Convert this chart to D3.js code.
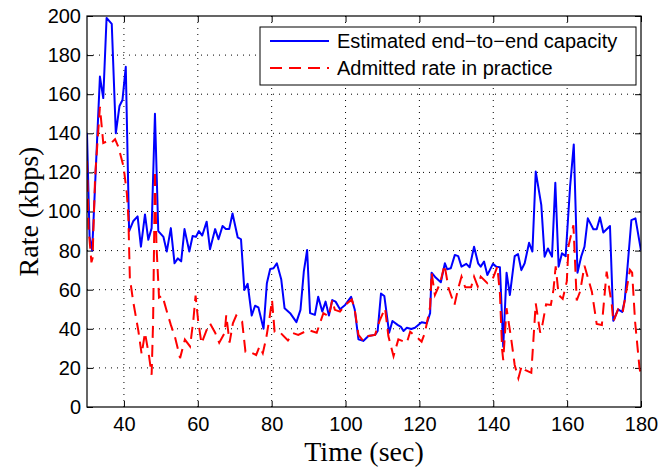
<!DOCTYPE html>
<html>
<head>
<meta charset="utf-8">
<script src="https://cdn.jsdelivr.net/npm/d3@7"></script>
<style>
  html, body { margin: 0; padding: 0; background: #fff; }
  svg { display: block; }
</style>
</head>
<body>
<svg id="chart" width="662" height="471"></svg>
<script>
// ---- data ----
const xTicks = [40, 60, 80, 100, 120, 140, 160, 180];
const yTicks = [0, 20, 40, 60, 80, 100, 120, 140, 160, 180, 200];
const seriesNames = ["Estimated end\u2212to\u2212end capacity", "Admitted rate in practice"];

const capacityT = [30,30.7,31.4,33.5,34.4,35.3,36.7,37.8,38.8,39.6,40.5,41.4,42.5,43.7,44.6,45.7,46.6,47.5,48.4,49.3,50.7,51.6,52.7,53.7,54.6,55.5,56.4,57.7,58.6,59.5,60.3,61.2,62.4,63.3,64.7,65.6,66.7,67.6,68.5,69.4,70.8,71.7,72.6,73.5,74.6,75.5,76.4,77.8,78.7,79.6,80.5,81.4,82.6,83.5,85.0,86.7,87.8,88.7,89.6,90.4,91.7,92.6,93.7,94.6,95.5,96.4,97.3,98.5,99.9,101.5,102.5,103.5,104.8,106.2,108.0,108.7,109.6,110.5,111.8,112.7,114.1,115.0,115.7,116.6,117.8,118.8,120.6,122.0,122.9,123.3,124.4,125.8,126.9,127.5,128.5,129.6,130.5,131.4,132.7,133.6,134.8,135.9,136.6,137.5,138.4,139.9,140.8,141.8,142.7,143.6,144.5,145.8,146.7,147.6,148.5,149.7,150.6,151.5,153.0,153.9,154.8,155.9,156.8,157.7,158.6,159.6,160.8,161.8,162.8,163.8,164.7,165.6,167.1,168.0,168.9,169.8,171.6,172.5,173.8,174.9,175.6,177.4,178.5,180];
const capacityV = [140,87,80,169,158,199,196,140,154,157,174,90,95,97.5,82,98.5,85.5,91.5,150,90,87,79.5,91.5,73.5,76,74.5,91,79.5,87.5,87,90,87.7,94.8,80.7,91,85.8,92.6,91,91,99,86.8,85.8,59.9,63,46.8,51.8,51,40,63.3,70.6,71,73.5,65.2,50.5,48,43.4,49.7,69.2,80.3,48,47.1,56.4,48.8,53.9,46.8,54.7,53.9,50,52.2,56.4,49.7,34.6,33.8,36.3,36.9,38.9,58,56.8,38,44,42,41,38.9,40.5,39.9,40.5,43.4,42.8,48,68.7,66.2,63.8,73.5,70.5,71,77.8,77.2,71.8,73.2,71.5,82,73.5,71.8,74.4,67.5,73.2,71.8,71.5,30.9,68.7,57.3,77.2,78.2,70,73.5,84,79.5,120.4,103.4,76.9,81.1,76.9,114.7,71.8,78.6,77.2,112.7,134.3,68.7,76.9,82,96.5,90.9,90.9,97,89.3,92.6,44.1,49.9,48.6,54.6,95.6,96.5,80];

const admittedT = [30,30.4,31.2,31.5,32.2,33.5,34.4,35.5,36.5,37.6,38.5,39.9,40.8,41.2,41.6,42.5,43.9,44.8,45.7,46.8,47.5,47.9,48.4,48.8,49.5,50.4,51.6,52.7,53.8,55.2,56.5,57.9,58.8,59.4,60.1,61.0,62.4,63.3,64.7,65.8,67.3,67.7,68.6,69.5,70.4,72.0,72.9,74.0,75.8,76.7,77.6,78.5,79.4,80.1,80.8,82.1,84.4,85.8,87.2,89.5,89.9,92.2,93.1,94.0,95.5,96.4,97.1,98.5,99.9,101.7,102.5,103.5,104.8,106.2,108.0,109.3,110.7,111.6,113.0,114.3,116.6,117.5,119.0,119.7,120.6,121.5,122.9,123.3,124.2,125.6,126.8,127.9,129.5,130.4,131.4,132.4,134.0,134.8,135.8,136.6,138.4,139.9,141.1,141.8,142.4,142.7,143.6,144.9,145.8,146.8,147.7,148.6,150.3,151.5,152.7,153.3,154.3,155.6,156.3,156.9,157.7,158.8,159.9,160.4,161.7,162.6,163.5,164.7,166.7,168.0,169.4,170.7,172.1,172.5,173.8,175.0,177.0,177.6,178.4,179.6,180];
const admittedV = [126,92,74,76,118,153.5,135,136,135,137,133,123,109,97,66,54,39,27,38,26,16.5,44,121,83,56,57,49,42,36,25,34.5,31,44.5,57,44,32.5,39.4,42.8,38,32.9,38,47,32.9,42.8,46.8,43.7,28.3,28.3,26.6,31,27.5,35,45.3,54.7,38.5,38.5,34,37.8,36.9,39,39.4,38,43,48,46.3,54.7,49.7,48.8,52.2,55,49.7,36.9,33.8,36.3,36.9,44.5,50.5,36.3,26,34.6,32.9,38.5,36,35,33.4,38,51.3,68.7,57.3,63.3,72.7,60.7,52.2,59.9,66.7,61.2,61.2,66.7,61.7,66.7,63.3,65.8,71.8,58.2,29.2,24,50.5,34.2,21.5,14.7,21,19,17.5,53,38,42,52.5,52.2,60,72,57.3,55.3,64.1,82.6,93,54.5,59,72.3,59,42.5,41.9,69.2,52.2,43.6,49.9,48,70.1,68.7,43.6,19.9,16];

// ---- layout ----
const svg = d3.select("#chart");
const L = 87, R = 641, T = 16, B = 407;
const x = d3.scaleLinear().domain([30, 180]).range([L, R]);
const y = d3.scaleLinear().domain([0, 200]).range([B, T]);
const tickFont = "'Liberation Sans', Arial, Helvetica, sans-serif";
const titleFont = "'Liberation Serif', 'Times New Roman', Times, serif";

svg.append("rect").attr("width", 662).attr("height", 471).attr("fill", "#fff");

// grid
const grid = svg.append("g");
xTicks.filter(v => v < 180).forEach(v => {
  grid.append("line").attr("x1", x(v)).attr("x2", x(v)).attr("y1", B).attr("y2", T)
    .attr("stroke", "#000").attr("stroke-width", 1).attr("stroke-dasharray", "1,5");
});
yTicks.filter(v => v > 0 && v < 200).forEach(v => {
  grid.append("line").attr("x1", L).attr("x2", R).attr("y1", y(v)).attr("y2", y(v))
    .attr("stroke", "#000").attr("stroke-width", 1).attr("stroke-dasharray", "1,5");
});

// axes (inward ticks on all sides)
const tl = 6;
const gx = svg.append("g").attr("transform", `translate(0,${B})`)
  .call(d3.axisBottom(x).tickValues(xTicks).tickSizeInner(-tl).tickSizeOuter(0).tickPadding(10));
const gxt = svg.append("g").attr("transform", `translate(0,${T})`)
  .call(d3.axisTop(x).tickValues(xTicks).tickSizeInner(-tl).tickSizeOuter(0).tickFormat(""));
const gy = svg.append("g").attr("transform", `translate(${L},0)`)
  .call(d3.axisLeft(y).tickValues(yTicks).tickSizeInner(-tl).tickSizeOuter(0).tickPadding(6));
const gyr = svg.append("g").attr("transform", `translate(${R},0)`)
  .call(d3.axisRight(y).tickValues(yTicks).tickSizeInner(-tl).tickSizeOuter(0).tickFormat(""));
[gx, gxt, gy, gyr].forEach(g => {
  g.select(".domain").remove();
  g.selectAll(".tick line").attr("stroke", "#000");
  g.selectAll("text").attr("font-family", tickFont).attr("font-size", 20).attr("fill", "#000");
});

// lines
const clip = svg.append("clipPath").attr("id", "clip").append("rect")
  .attr("x", L).attr("y", T - 2).attr("width", R - L).attr("height", B - T + 2);
const line = d3.line().x(d => x(d[0])).y(d => y(d[1]));
const capData = capacityT.map((t, i) => [t, capacityV[i]]);
const admData = admittedT.map((t, i) => [t, admittedV[i]]);

svg.append("path").datum(capData).attr("d", line).attr("fill", "none")
  .attr("stroke", "#0000ff").attr("stroke-width", 2).attr("stroke-linejoin", "round")
  .attr("clip-path", "url(#clip)");
svg.append("path").datum(admData).attr("d", line).attr("fill", "none")
  .attr("stroke", "#ff0000").attr("stroke-width", 2).attr("stroke-dasharray", "12,7")
  .attr("clip-path", "url(#clip)");

// frame
svg.append("rect").attr("x", L).attr("y", T).attr("width", R - L).attr("height", B - T)
  .attr("fill", "none").attr("stroke", "#000").attr("stroke-width", 1.2);

// legend
const lg = svg.append("g");
lg.append("rect").attr("x", 260).attr("y", 27).attr("width", 376).attr("height", 58)
  .attr("fill", "#fff").attr("stroke", "#000").attr("stroke-width", 1);
lg.append("line").attr("x1", 270).attr("x2", 329).attr("y1", 41).attr("y2", 41)
  .attr("stroke", "#0000ff").attr("stroke-width", 2);
lg.append("line").attr("x1", 270).attr("x2", 329).attr("y1", 68).attr("y2", 68)
  .attr("stroke", "#ff0000").attr("stroke-width", 2).attr("stroke-dasharray", "12,7");
lg.append("text").attr("x", 337).attr("y", 48).text(seriesNames[0])
  .attr("font-family", tickFont).attr("font-size", 20);
lg.append("text").attr("x", 337).attr("y", 75).text(seriesNames[1])
  .attr("font-family", tickFont).attr("font-size", 20);

// axis titles
svg.append("text").attr("x", (L + R) / 2).attr("y", 461).attr("text-anchor", "middle")
  .attr("font-family", titleFont).attr("font-size", 28).text("Time (sec)");
svg.append("text").attr("transform", `translate(38,${(T + B) / 2}) rotate(-90)`)
  .attr("text-anchor", "middle").attr("font-family", titleFont).attr("font-size", 28)
  .text("Rate (kbps)");
</script>
</body>
</html>
